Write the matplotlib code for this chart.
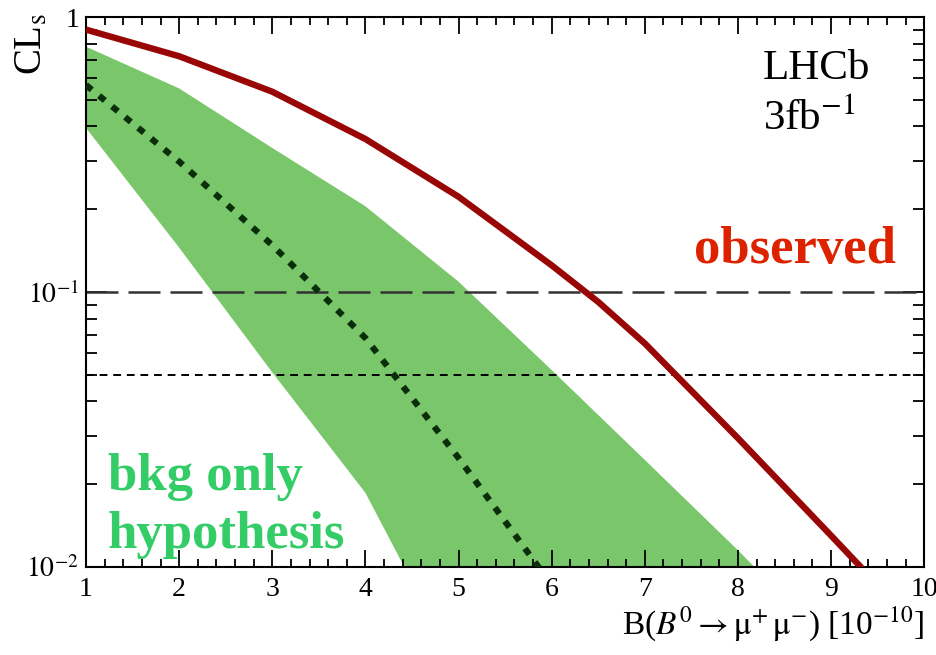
import matplotlib
matplotlib.use('Agg')
import matplotlib.pyplot as plt
import numpy as np
from matplotlib.ticker import MultipleLocator, AutoMinorLocator, LogLocator, FixedLocator, FixedFormatter, NullFormatter

plt.rcParams['font.family'] = ['Liberation Serif', 'DejaVu Serif']
plt.rcParams['mathtext.fontset'] = 'stix'

# observed CLs
x_obs = [1, 2, 3, 4, 5, 6, 6.5, 7, 8, 9, 10]
cls_obs = [0.90, 0.72, 0.535, 0.36, 0.222, 0.125, 0.092, 0.065, 0.0294, 0.013, 0.0057]

# expected (background only) median
x_exp = [1, 2, 3, 4, 5, 6]
cls_exp = [0.566, 0.298, 0.148, 0.068, 0.0249, 0.0086]

# expected band edges
x_band_up = [1, 2, 3, 4, 5, 6, 7, 8, 9]
cls_band_up = [0.78, 0.55, 0.334, 0.205, 0.109, 0.052, 0.0245, 0.0115, 0.0052]
x_band_lo = [1, 2, 3, 4, 5]
cls_band_lo = [0.395, 0.145, 0.051, 0.0186, 0.0042]

y_ticks = [0.01, 0.1, 1]
y_ticklabels = ['$10^{-2}$', '$10^{-1}$', '1']

fig = plt.figure(figsize=(9.37, 6.55), dpi=100)
ax = fig.add_axes([0.0918, 0.1344, 0.8946, 0.8396])

band_x = np.concatenate([x_band_up, x_band_lo[::-1]])
band_y = np.concatenate([cls_band_up, cls_band_lo[::-1]])
ax.fill(band_x, band_y, color='#7AC66A', lw=0, zorder=1)

ax.axhline(0.1, color='#333333', lw=1.8, linestyle=(0, (12.8, 4)), zorder=2)
ax.axhline(0.05, color='black', lw=1.4, linestyle=(0, (4, 3)), zorder=2)

ax.plot(x_exp, cls_exp, color='#0a2e0a', lw=4.5, linestyle=(0, (1.2, 1.5)),
        dash_capstyle='butt', zorder=3)
ax.plot(x_obs, cls_obs, color='#990606', lw=4.6, solid_capstyle='butt',
        solid_joinstyle='round', zorder=4)

ax.set_yscale('log')
ax.set_xlim(1, 10)
ax.set_ylim(0.01, 1)

ax.xaxis.set_major_locator(MultipleLocator(1))
ax.xaxis.set_minor_locator(AutoMinorLocator(5))
ax.yaxis.set_major_locator(FixedLocator(y_ticks))
ax.yaxis.set_major_formatter(FixedFormatter(y_ticklabels))
ax.yaxis.set_minor_locator(LogLocator(base=10, subs=np.arange(2, 10)))
ax.yaxis.set_minor_formatter(NullFormatter())

ax.tick_params(which='both', direction='in', top=True, right=True, width=1.3,
               labelsize=20, colors='black')
ax.tick_params(axis='x', which='major', length=12, pad=7)
ax.tick_params(axis='x', which='minor', length=6)
ax.tick_params(axis='y', which='major', length=15, pad=5)
ax.tick_params(axis='y', which='minor', length=8)
for s in ax.spines.values():
    s.set_linewidth(1.5)

ax.set_xlabel(r'B($B^{0}\rightarrow\mathrm{\mu^{+}\,\mu^{-}}$) [10$^{-10}$]',
              fontsize=24, loc='right', labelpad=2)
fig.text(0.035, 0.98, r'CL$_{\mathrm{s}}$', rotation=90, fontsize=28,
         ha='center', va='top')

ax.text(8.27, 0.595, 'LHCb', fontsize=31, va='baseline', ha='left')
ax.text(8.27, 0.388, r'3fb$^{-1}$', fontsize=31, va='baseline', ha='left')
ax.text(7.53, 0.1275, 'observed', fontsize=38, fontweight='bold',
        color='#DD2200', va='baseline', ha='left')
ax.text(1.236, 0.019, 'bkg only', fontsize=38, fontweight='bold',
        color='#33CC66', va='baseline', ha='left')
ax.text(1.236, 0.0117, 'hypothesis', fontsize=38, fontweight='bold',
        color='#33CC66', va='baseline', ha='left')

fig.savefig('out.png', dpi=100)
